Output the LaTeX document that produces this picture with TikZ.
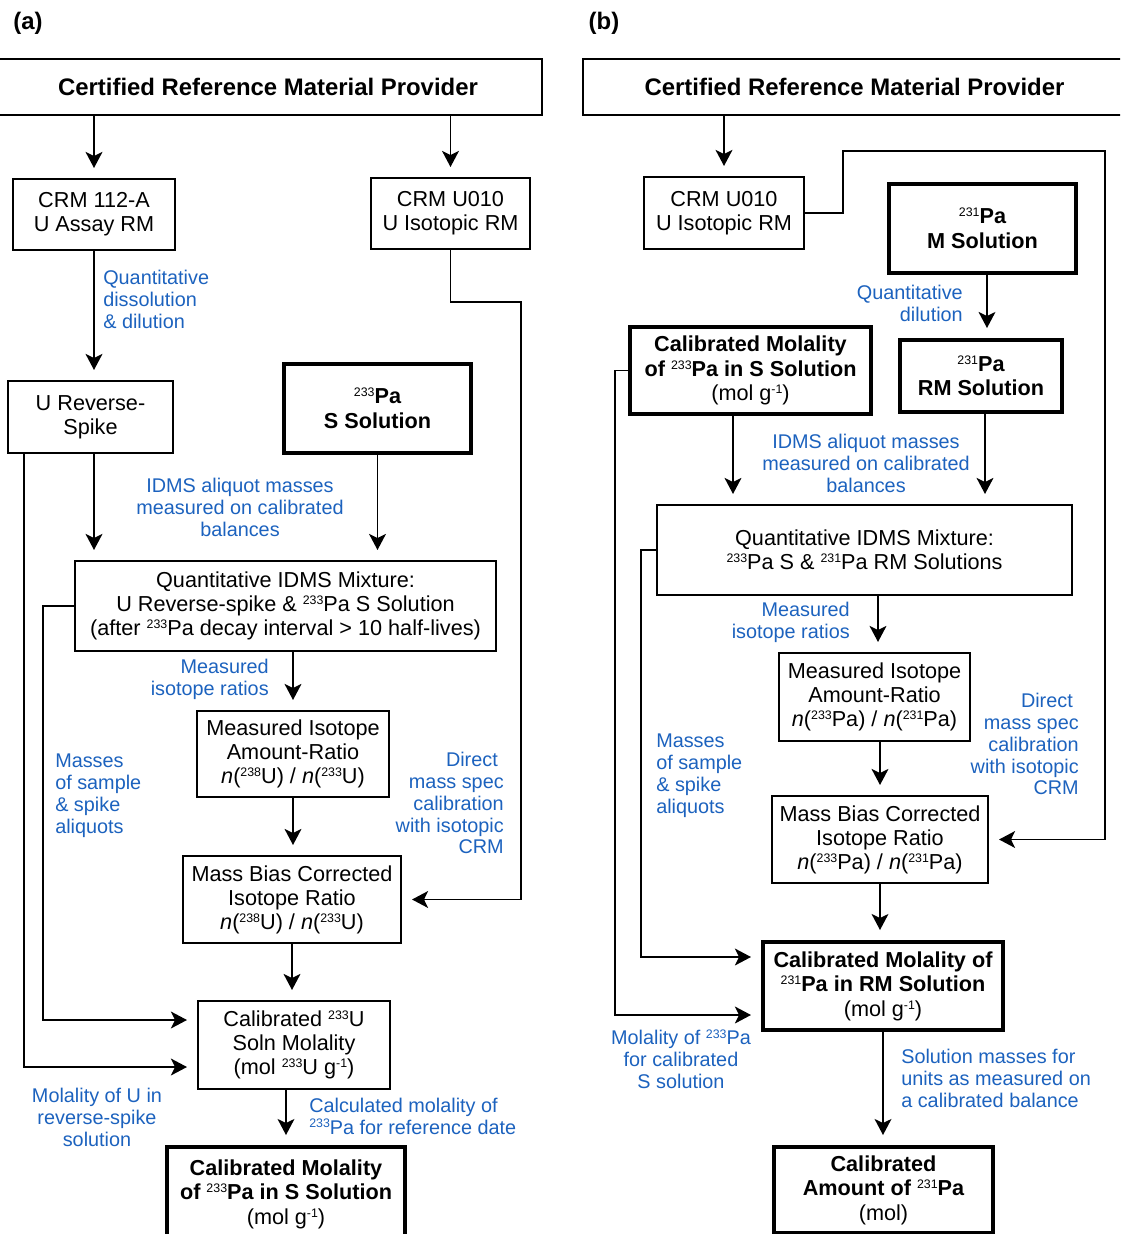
\documentclass[tikz,border=0pt]{standalone}
\usepackage{fontspec}
\setmainfont{Liberation Sans}
\usepackage{xcolor}
\usetikzlibrary{arrows.meta}
\definecolor{labelblue}{RGB}{28,98,190}
\newcommand{\sups}[1]{\raisebox{0.6ex}{\mdseries\fontsize{8.8}{9}\selectfont #1}}
\newcommand{\iso}[2]{\sups{#1}#2}
\newcommand{\ratio}[4]{\textit{n}(\sups{#1}#2) / \textit{n}(\sups{#3}#4)}
\begin{document}
\begin{tikzpicture}[x=0.025cm,y=-0.025cm,
    plainbox/.style={draw,line width=1.4pt,align=center,inner sep=0pt,
      font=\fontsize{15.4}{17}\selectfont},
    boldbox/.style={plainbox,line width=2.8pt,font=\bfseries\fontsize{15.4}{17.5}\selectfont},
    headbox/.style={plainbox,font=\bfseries\fontsize{17}{20}\selectfont},
    note/.style={text=labelblue,inner sep=0pt,font=\fontsize{14.1}{15.6}\selectfont},
    flow/.style={line width=1.4pt,-{Stealth[length=0.4cm,width=0.42cm,inset=0.1cm]},
      shorten >=0.25cm}]
  \useasboundingbox (0,0) rectangle (1120,1234);
  \clip (0,0) rectangle (1120,1234);

  % panel (a)
  \node[font=\bfseries\fontsize{17}{20}\selectfont] (labA) at (28,23) {(a)};
  \node[headbox,minimum width=13.7cm,minimum height=1.4cm] (titleA) at (268,87)
    {Certified Reference Material Provider};
  \node[plainbox,minimum width=4.05cm,minimum height=1.775cm] (crmA) at (94,214.5)
    {CRM 112-A\\U Assay RM};
  \node[plainbox,minimum width=3.975cm,minimum height=1.775cm] (u010A) at (450.5,213.5)
    {CRM U010\\U Isotopic RM};
  \node[plainbox,minimum width=4.125cm,minimum height=1.8cm] (urs) at (90.5,417)
    {U Reverse-\\Spike};
  \node[boldbox,minimum width=4.675cm,minimum height=2.225cm] (paS) at (377.5,408.5)
    {\iso{233}{Pa}\\S Solution};
  \node[plainbox,minimum width=10.525cm,minimum height=2.25cm] (mixA) at (285.5,606)
    {Quantitative IDMS Mixture:\\U Reverse-spike \& \iso{233}{Pa} S Solution\\(after \iso{233}{Pa} decay interval > 10 half-lives)};
  \node[plainbox,minimum width=4.8cm,minimum height=2.15cm] (misoA) at (293,754)
    {Measured Isotope\\Amount-Ratio\\\ratio{238}{U}{233}{U}};
  \node[plainbox,minimum width=5.45cm,minimum height=2.175cm] (mbcA) at (292,899.5)
    {Mass Bias Corrected\\Isotope Ratio\\\ratio{238}{U}{233}{U}};
  \node[plainbox,minimum width=4.8cm,minimum height=2.2cm] (calU) at (294,1045)
    {Calibrated \iso{233}{U}\\Soln Molality\\(mol \iso{233}{U} g\sups{-1})};
  \node[boldbox,minimum width=5.95cm,minimum height=2.35cm] (molS) at (286,1194)
    {Calibrated Molality\\of \iso{233}{Pa} in S Solution\\{\mdseries(mol g\sups{-1})}};

  \node[note,anchor=west,align=left] (qdd) at (103,299)
    {Quantitative\\dissolution\\\& dilution};
  \node[note,align=center] (idmsA) at (240,507)
    {IDMS aliquot masses\\measured on calibrated\\balances};
  \node[note,anchor=east,align=right] (mirA) at (269,679)
    {Measured\\isotope ratios};
  \node[note,anchor=west,align=left] (massA) at (55,796)
    {Masses\\of sample\\\& spike\\aliquots};
  \node[note,anchor=east,align=right] (dirA) at (504,803)
    {Direct\hspace*{0.3em}\\mass spec\\calibration\\with isotopic\\CRM};
  \node[note,align=center] (molU) at (97,1117)
    {Molality of U in\\reverse-spike\\solution};
  \node[note,anchor=west,align=left] (calcA) at (309,1116)
    {Calculated molality of\\\iso{233}{Pa} for reference date};

  \draw[flow] (titleA.south -| crmA) -- (crmA.north);
  \draw[flow] (titleA.south -| u010A) -- (u010A.north);
  \draw[flow] (crmA.south) -- (crmA.south |- urs.north);
  \draw[flow] (crmA.south |- urs.south) -- (crmA.south |- mixA.north);
  \draw[flow] (paS.south) -- (paS.south |- mixA.north);
  \draw[flow] (misoA.north |- mixA.south) -- (misoA.north);
  \draw[flow] (misoA.south) -- (misoA.south |- mbcA.north);
  \draw[flow] (mbcA.south) -- (mbcA.south |- calU.north);
  \draw[flow] (molS.north |- calU.south) -- (molS.north);
  \draw[flow] (u010A.south) |- (521,302) |- (mbcA.east);
  \draw[flow] (mixA.west) -- (43,0 |- mixA.west) |- (calU.west |- 0,1020);
  \draw[flow] (24,0 |- urs.south) |- (calU.west |- 0,1067);

  % panel (b)
  \node[font=\bfseries\fontsize{17}{20}\selectfont] (labB) at (604,23) {(b)};
  \node[headbox,minimum width=13.575cm,minimum height=1.4cm] (titleB) at (854.5,87)
    {Certified Reference Material Provider};
  \node[plainbox,minimum width=4cm,minimum height=1.8cm] (u010B) at (724,213)
    {CRM U010\\U Isotopic RM};
  \node[boldbox,minimum width=4.675cm,minimum height=2.225cm] (paM) at (982.5,228.5)
    {\iso{231}{Pa}\\M Solution};
  \node[boldbox,minimum width=4.05cm,minimum height=1.8cm] (paRM) at (981,376)
    {\iso{231}{Pa}\\RM Solution};
  \node[boldbox,minimum width=6.025cm,minimum height=2.175cm] (molSB) at (750.5,370.5)
    {Calibrated Molality\\of \iso{233}{Pa} in S Solution\\{\mdseries(mol g\sups{-1})}};
  \node[plainbox,minimum width=10.375cm,minimum height=2.25cm] (mixB) at (864.5,550)
    {Quantitative IDMS Mixture:\\\iso{233}{Pa} S \& \iso{231}{Pa} RM Solutions};
  \node[plainbox,minimum width=4.775cm,minimum height=2.2cm] (misoB) at (874.5,697)
    {Measured Isotope\\Amount-Ratio\\\ratio{233}{Pa}{231}{Pa}};
  \node[plainbox,minimum width=5.4cm,minimum height=2.175cm] (mbcB) at (880,839.5)
    {Mass Bias Corrected\\Isotope Ratio\\\ratio{233}{Pa}{231}{Pa}};
  \node[boldbox,minimum width=6cm,minimum height=2.2cm] (calRM) at (883,986)
    {Calibrated Molality of\\\iso{231}{Pa} in RM Solution\\{\mdseries(mol g\sups{-1})}};
  \node[boldbox,minimum width=5.475cm,minimum height=2.15cm] (amt) at (883.5,1190)
    {Calibrated\\Amount of \iso{231}{Pa}\\{\mdseries(mol)}};

  \node[note,anchor=east,align=right] (qdB) at (963,303)
    {Quantitative\\dilution};
  \node[note,align=center] (idmsB) at (866,463)
    {IDMS aliquot masses\\measured on calibrated\\balances};
  \node[note,anchor=east,align=right] (mirB) at (850,622)
    {Measured\\isotope ratios};
  \node[note,anchor=west,align=left] (massB) at (656,776)
    {Masses\\of sample\\\& spike\\aliquots};
  \node[note,anchor=east,align=right] (dirB) at (1079,744)
    {Direct\hspace*{0.3em}\\mass spec\\calibration\\with isotopic\\CRM};
  \node[note,align=center] (molPa) at (681,1059)
    {Molality of \iso{233}{Pa}\\for calibrated\\S solution};
  \node[note,anchor=west,align=left] (solB) at (901,1078)
    {Solution masses for\\units as measured on\\a calibrated balance};

  \draw[flow] (titleB.south -| u010B) -- (u010B.north);
  \draw[flow] (u010B.east) -- (843,0 |- u010B.east) |- (1105,151) |- (mbcB.east);
  \draw[flow] (987,0 |- paM.south) -- (987,0 |- paRM.north);
  \draw[flow] (733,0 |- molSB.south) -- (733,0 |- mixB.north);
  \draw[flow] (985,0 |- paRM.south) -- (985,0 |- mixB.north);
  \draw[flow] (878,0 |- mixB.south) -- (878,0 |- misoB.north);
  \draw[flow] (880,0 |- misoB.south) -- (880,0 |- mbcB.north);
  \draw[flow] (mbcB.south) -- (mbcB.south |- calRM.north);
  \draw[flow] (calRM.south) -- (calRM.south |- amt.north);
  \draw[flow] (molSB.west) -- (615,0 |- molSB.west) |- (calRM.west |- 0,1015);
  \draw[flow] (mixB.west) -- (641,0 |- mixB.west) |- (calRM.west |- 0,957);
\end{tikzpicture}
\end{document}
